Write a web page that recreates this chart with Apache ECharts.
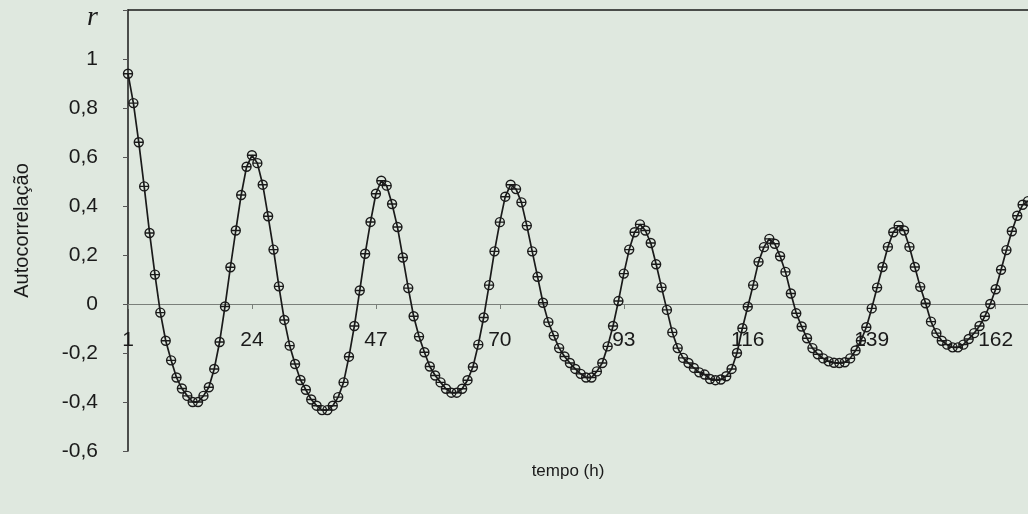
<!DOCTYPE html>
<html>
<head>
<meta charset="utf-8">
<script src="https://cdn.jsdelivr.net/npm/echarts@6/dist/echarts.min.js"></script>
<style>
html,body{margin:0;padding:0;background:#dfe8df;}
#c{width:1028px;height:514px;}
</style>
</head>
<body>
<div id="c"></div>
<script>
// Autocorrelation r by lag (hours), one array per day
const day1 = [0.94, 0.82, 0.66, 0.48, 0.29, 0.12, -0.035, -0.15, -0.23, -0.30, -0.345, -0.375, -0.40, -0.40, -0.375, -0.34, -0.265, -0.155, -0.01, 0.15, 0.30, 0.445, 0.56, 0.607];
const day2 = [0.575, 0.487, 0.358, 0.222, 0.072, -0.065, -0.17, -0.245, -0.31, -0.35, -0.39, -0.415, -0.433, -0.433, -0.415, -0.38, -0.32, -0.215, -0.09, 0.055, 0.205, 0.335, 0.45, 0.503];
const day3 = [0.483, 0.408, 0.314, 0.19, 0.065, -0.05, -0.133, -0.197, -0.255, -0.292, -0.32, -0.346, -0.362, -0.362, -0.346, -0.311, -0.257, -0.166, -0.055, 0.077, 0.215, 0.334, 0.438, 0.487];
const day4 = [0.469, 0.415, 0.32, 0.215, 0.111, 0.005, -0.074, -0.129, -0.18, -0.214, -0.241, -0.265, -0.285, -0.30, -0.30, -0.275, -0.241, -0.173, -0.09, 0.012, 0.124, 0.222, 0.293, 0.325];
const day5 = [0.30, 0.249, 0.162, 0.068, -0.024, -0.116, -0.18, -0.22, -0.241, -0.261, -0.279, -0.288, -0.306, -0.311, -0.308, -0.295, -0.265, -0.2, -0.099, -0.011, 0.077, 0.172, 0.232, 0.266];
const day6 = [0.246, 0.195, 0.131, 0.043, -0.038, -0.092, -0.14, -0.18, -0.205, -0.222, -0.234, -0.24, -0.241, -0.238, -0.222, -0.19, -0.15, -0.095, -0.018, 0.067, 0.151, 0.233, 0.293, 0.32];
const day7 = [0.30, 0.233, 0.151, 0.07, 0.003, -0.072, -0.119, -0.15, -0.166, -0.177, -0.177, -0.166, -0.143, -0.119, -0.09, -0.05, 0.0, 0.06, 0.14, 0.22, 0.297, 0.36, 0.405, 0.42];

const values = [].concat(day1, day2, day3, day4, day5, day6, day7);
const lags = values.map((v, i) => String(i + 1));   // categories 1..168
const yTicks = { min: -0.6, max: 1.2, step: 0.2 };

const chart = echarts.init(document.getElementById('c'), null, { renderer: 'canvas' });
const font = 'Liberation Sans, Arial, sans-serif';
const marker = 'path://M0,10A10,10 0 1,1 20,10A10,10 0 1,1 0,10Z M0,10L20,10';

chart.setOption({
  backgroundColor: '#dfe8df',
  animation: false,
  grid: { left: 128, right: 0, top: 10, bottom: 63, containLabel: false, outerBoundsMode: 'none' },
  xAxis: [{
    type: 'category',
    data: lags,
    boundaryGap: false,
    name: 'tempo (h)',
    nameLocation: 'middle',
    nameGap: 12,
    nameTextStyle: { fontFamily: font, fontSize: 17, color: '#1a1a1a', padding: [0, 20, 0, 0] },
    axisLine: { onZero: true, lineStyle: { color: '#7a7f7a', width: 1 } },
    axisTick: { show: true, interval: 22, length: 5, lineStyle: { color: '#7a7f7a' } },
    axisLabel: { interval: 22, margin: -121, fontFamily: font, fontSize: 21, color: '#1a1a1a' },
    splitLine: { show: false }
  }, {
    type: 'category',
    data: lags,
    boundaryGap: false,
    position: 'top',
    axisLine: { onZero: false, lineStyle: { color: '#1a1a1a', width: 1.5 } },
    axisTick: { show: false },
    axisLabel: { show: false },
    splitLine: { show: false }
  }],
  yAxis: {
    type: 'value',
    min: yTicks.min,
    max: yTicks.max,
    interval: yTicks.step,
    name: 'Autocorrelação',
    nameLocation: 'middle',
    nameGap: 96,
    nameTextStyle: { fontFamily: font, fontSize: 20, color: '#1a1a1a' },
    axisLine: { show: true, lineStyle: { color: '#1a1a1a', width: 1.5 } },
    axisTick: { show: true, length: 5, lineStyle: { color: '#555' } },
    axisLabel: {
      margin: 30,
      fontFamily: font,
      fontSize: 21,
      color: '#1a1a1a',
      formatter: function (v) {
        if (Math.abs(v - 1.2) < 1e-6) return '{r|r}';
        return String(+v.toFixed(1)).replace('.', ',');
      },
      rich: { r: { fontFamily: 'Liberation Serif, DejaVu Serif, serif', fontStyle: 'italic', fontSize: 28, color: '#1a1a1a', padding: [16, 0, 0, 0] } }
    },
    splitLine: { show: false }
  },
  series: [{
    type: 'line',
    data: values,
    xAxisIndex: 0,
    symbol: marker,
    symbolSize: 9,
    showAllSymbol: true,
    lineStyle: { color: '#1a1a1a', width: 1.7 },
    itemStyle: { color: 'rgba(0,0,0,0)', borderColor: '#1a1a1a', borderWidth: 1.4 },
    z: 3
  }]
});
</script>
</body>
</html>
